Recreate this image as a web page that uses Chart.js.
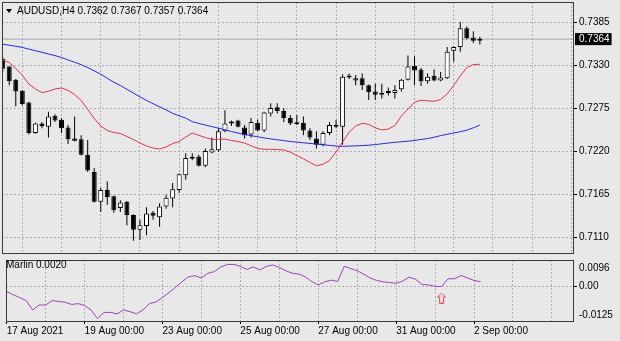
<!DOCTYPE html>
<html>
<head>
<meta charset="utf-8">
<script src="https://cdn.jsdelivr.net/npm/chart.js@4.4.0/dist/chart.umd.min.js"></script>
<style>
  html, body { margin: 0; padding: 0; background: #e8e8e8; }
  #wrap { position: relative; width: 620px; height: 341px; overflow: hidden;
          font-family: "Liberation Sans", Arial, sans-serif; font-size: 10px; color: #000; }
  canvas { position: absolute; left: 0; }
  #main { top: 0; }
  #sub { top: 254px; }
  .lbl { position: absolute; white-space: pre; line-height: 12px; }
  #tri { position: absolute; left: 6px; top: 9px; width: 0; height: 0;
         border-left: 3.5px solid transparent; border-right: 3.5px solid transparent;
         border-top: 4px solid #000; }
</style>
</head>
<body>
<div id="wrap">
  <canvas id="main" width="620" height="254"></canvas>
  <canvas id="sub" width="620" height="87"></canvas>
  <div id="tri"></div>
  <div class="lbl" id="hdr" style="left:17px;top:5px;"></div>
  <div class="lbl" id="ind" style="left:6px;top:259px;"></div>
</div>
<script>
// ---- AUDUSD H4 candles (bar 0 = 17 Aug 2021 00:00) ----
const symbol = 'AUDUSD,H4';
const open = [
  0.7339,0.7329,0.7312,0.7298,0.7283,0.7244,0.7256,0.7252,0.7266,0.7261,
  0.7251,0.7237,0.7236,0.7216,0.7194,0.7156,0.7171,0.7163,0.7148,0.7156,
  0.7139,0.7120,0.7125,0.7142,0.7136,0.7150,0.7160,0.7171,0.7190,0.7213,
  0.7214,0.7202,0.7219,0.7222,0.7246,0.7258,0.7260,0.7251,0.7242,0.7257,
  0.7247,0.7269,0.7277,0.7272,0.7263,0.7257,0.7257,0.7247,0.7237,0.7229,
  0.7244,0.7254,0.7252,0.7317,0.7311,0.7314,0.7305,0.7297,0.7295,0.7295,
  0.7295,0.7300,0.7312,0.7330,0.7325,0.7310,0.7317,0.7311,0.7314,0.7349,
  0.7354,0.7378,0.7366,0.7362];
const high = [
  0.7341,0.7330,0.7313,0.7299,0.7284,0.7257,0.7258,0.7271,0.7268,0.7263,
  0.7254,0.7265,0.7241,0.7235,0.7199,0.7174,0.7182,0.7164,0.7158,0.7157,
  0.7140,0.7133,0.7149,0.7144,0.7154,0.7165,0.7180,0.7192,0.7218,0.7218,
  0.7216,0.7224,0.7238,0.7250,0.7273,0.7260,0.7261,0.7254,0.7263,0.7261,
  0.7271,0.7282,0.7282,0.7276,0.7267,0.7267,0.7265,0.7250,0.7246,0.7246,
  0.7258,0.7261,0.7319,0.7320,0.7318,0.7320,0.7306,0.7307,0.7307,0.7302,
  0.7305,0.7313,0.7343,0.7342,0.7327,0.7320,0.7325,0.7322,0.7354,0.7355,
  0.7386,0.7380,0.7374,0.7367];
const low = [
  0.7322,0.7305,0.7278,0.7279,0.7242,0.7243,0.7250,0.7238,0.7258,0.7244,
  0.7230,0.7233,0.7215,0.7194,0.7155,0.7143,0.7152,0.7142,0.7143,0.7126,
  0.7106,0.7107,0.7113,0.7133,0.7124,0.7147,0.7149,0.7167,0.7184,0.7209,
  0.7201,0.7200,0.7218,0.7220,0.7245,0.7253,0.7251,0.7237,0.7238,0.7246,
  0.7245,0.7265,0.7269,0.7258,0.7254,0.7254,0.7241,0.7235,0.7224,0.7227,
  0.7241,0.7250,0.7229,0.7313,0.7305,0.7299,0.7286,0.7286,0.7288,0.7292,
  0.7288,0.7297,0.7311,0.7305,0.7304,0.7307,0.7310,0.7310,0.7313,0.7335,
  0.7348,0.7364,0.7359,0.7357];
const close = [
  0.7326,0.7310,0.7297,0.7281,0.7244,0.7256,0.7253,0.7265,0.7260,0.7250,
  0.7236,0.7234,0.7216,0.7196,0.7156,0.7171,0.7162,0.7145,0.7155,0.7139,
  0.7120,0.7126,0.7141,0.7138,0.7150,0.7161,0.7172,0.7191,0.7212,0.7211,
  0.7202,0.7221,0.7223,0.7246,0.7256,0.7256,0.7252,0.7241,0.7258,0.7247,
  0.7270,0.7276,0.7272,0.7263,0.7256,0.7255,0.7247,0.7238,0.7229,0.7244,
  0.7254,0.7252,0.7316,0.7315,0.7314,0.7305,0.7296,0.7293,0.7293,0.7296,
  0.7299,0.7312,0.7329,0.7324,0.7310,0.7316,0.7311,0.7315,0.7348,0.7354,
  0.7378,0.7365,0.7362,0.7364];

// slow moving average (blue)
const maSlow = [
  0.73575,0.73562,0.73549,0.73534,0.73512,0.73492,0.73471,0.73450,0.73429,0.73405,
  0.73374,0.73345,0.73314,0.73276,0.73235,0.73191,0.73138,0.73089,0.73047,0.72998,
  0.72950,0.72901,0.72856,0.72815,0.72774,0.72735,0.72690,0.72659,0.72630,0.72584,
  0.72562,0.72541,0.72521,0.72501,0.72480,0.72458,0.72439,0.72420,0.72405,0.72391,
  0.72376,0.72364,0.72352,0.72342,0.72330,0.72323,0.72314,0.72306,0.72298,0.72289,
  0.72281,0.72272,0.72268,0.72272,0.72274,0.72278,0.72283,0.72291,0.72301,0.72311,
  0.72320,0.72327,0.72334,0.72344,0.72356,0.72368,0.72385,0.72405,0.72423,0.72439,
  0.72456,0.72474,0.72506,0.72541];
// fast moving average (red)
const maFast = [
  0.73373,0.73341,0.73264,0.73181,0.73066,0.73002,0.72957,0.72973,0.73002,0.73015,
  0.72985,0.72932,0.72855,0.72740,0.72625,0.72529,0.72471,0.72446,0.72433,0.72394,
  0.72356,0.72311,0.72275,0.72247,0.72235,0.72260,0.72305,0.72330,0.72388,0.72439,
  0.72410,0.72382,0.72357,0.72358,0.72362,0.72343,0.72330,0.72311,0.72275,0.72241,
  0.72231,0.72230,0.72227,0.72223,0.72194,0.72151,0.72109,0.72063,0.72020,0.72040,
  0.72087,0.72196,0.72324,0.72449,0.72529,0.72563,0.72549,0.72506,0.72478,0.72490,
  0.72535,0.72657,0.72746,0.72832,0.72859,0.72851,0.72845,0.72868,0.72938,0.73047,
  0.73168,0.73277,0.73315,0.73318];

// Marlin oscillator
const marlinName = 'Marlin 0.0020';
const marlin = [
  -0.0018,-0.0030,-0.0040,-0.0051,-0.0085,-0.0067,-0.0067,-0.0051,-0.0054,-0.0057,
  -0.0065,-0.0062,-0.0069,-0.0085,-0.0116,-0.0094,-0.0094,-0.0099,-0.0085,-0.0091,
  -0.0099,-0.0085,-0.0062,-0.0056,-0.0040,-0.0022,-0.0003, 0.0017, 0.0035, 0.0039,
   0.0031, 0.0048, 0.0054, 0.0071, 0.0080, 0.0080, 0.0073, 0.0062, 0.0071, 0.0060,
   0.0073, 0.0078, 0.0069, 0.0057, 0.0048, 0.0045, 0.0035, 0.0018, 0.0006, 0.0017,
   0.0023, 0.0018, 0.0073, 0.0065, 0.0057, 0.0045, 0.0031, 0.0022, 0.0017, 0.0014,
   0.0012, 0.0019, 0.0034, 0.0026, 0.0007, 0.0006, 0.0000, 0.0000, 0.0028, 0.0028,
   0.0040, 0.0031, 0.0022, 0.0017];
// buy signal arrow under the oscillator
const signalUp = [{ bar: 67, value: -0.0042 }];

// axis ticks
const priceTicks = [0.7110, 0.7165, 0.7220, 0.7275, 0.7330, 0.7385];
const marlinTicks = [-0.0125, 0, 0.0096];
const marlinTickLabels = ['-0.0125', '0.00', '0.0096'];
const dateTickBars = [0, 12, 24, 36, 48, 60, 72];
const dateTickLabels = ['17 Aug 2021', '19 Aug 00:00', '23 Aug 00:00', '25 Aug 00:00',
                        '27 Aug 00:00', '31 Aug 00:00', '2 Sep 00:00'];
const gridBars = [0, 6, 12, 18, 24, 30, 36, 42, 48, 54, 60, 66, 72, 78, 84];

// ---- helpers ----
const bars = open.map((_, i) => i);
const last = bars.length - 1;
const lastClose = close[last];
const X_MIN = -0.107, X_MAX = 87.25;
const PRICE_MIN = 0.70904, PRICE_MAX = 0.74115;
const GRID = '#aeaeae';
const CLEAR = 'rgba(0,0,0,0)';

Chart.defaults.font.family = '"Liberation Sans", Arial, sans-serif';
Chart.defaults.font.size = 10;
Chart.defaults.color = '#000';

document.getElementById('hdr').textContent =
  symbol + ' ' + [open[last], high[last], low[last], close[last]].map(v => v.toFixed(4)).join(' ');
document.getElementById('ind').textContent = marlinName;

// dark frame around each plotting window
const framePlugin = {
  id: 'frame',
  afterDraw(chart) {
    const { ctx, chartArea: a } = chart;
    ctx.save();
    ctx.strokeStyle = '#3a3a3a';
    ctx.lineWidth = 1;
    ctx.strokeRect(a.left + 0.5, a.top + 0.5, a.right - a.left, a.bottom - a.top);
    ctx.restore();
  }
};

const common = {
  animation: false,
  responsive: false,
  events: [],
  plugins: { legend: { display: false }, tooltip: { enabled: false } }
};

// ---- price window ----
new Chart(document.getElementById('main'), {
  type: 'bar',
  data: {
    datasets: [
      { type: 'line', label: 'last', order: 6,
        data: [{ x: X_MIN, y: lastClose }, { x: X_MAX, y: lastClose }],
        borderColor: '#aaaaaa', borderWidth: 1, pointRadius: 0 },
      { label: 'shadows', order: 5, grouped: false, inflateAmount: 0,
        data: bars.map(i => ({ x: i, y: [low[i], high[i]] })),
        backgroundColor: '#000', barThickness: 1 },
      { label: 'bodies', order: 4, grouped: false, inflateAmount: 0,
        data: bars.map(i => ({ x: i, y: [open[i], close[i]] })),
        backgroundColor: bars.map(i => close[i] >= open[i] ? '#ffffff' : '#000000'),
        borderColor: '#000', borderWidth: 1, borderSkipped: false,
        barThickness: 5, minBarLength: 2 },
      { type: 'line', label: 'MA fast', order: 2,
        data: bars.map(i => ({ x: i, y: maFast[i] })),
        borderColor: '#e5304f', borderWidth: 1, pointRadius: 0 },
      { type: 'line', label: 'MA slow', order: 1,
        data: bars.map(i => ({ x: i, y: maSlow[i] })),
        borderColor: '#2424ff', borderWidth: 1, pointRadius: 0 }
    ]
  },
  options: Object.assign({}, common, {
    layout: { padding: { left: 2, top: 2, right: 0, bottom: 1 } },
    scales: {
      x: {
        type: 'linear', min: X_MIN, max: X_MAX, offset: false,
        afterBuildTicks: s => { s.ticks = gridBars.filter(b => b > 0).map(v => ({ value: v })); },
        afterFit: s => { s.height = 0; s.paddingLeft = 0; s.paddingRight = 0; },
        ticks: { display: false },
        grid: { color: GRID, drawTicks: false },
        border: { display: false, dash: [2, 2] }
      },
      y: {
        position: 'right', min: PRICE_MIN, max: PRICE_MAX,
        afterBuildTicks: s => {
          s.ticks = priceTicks.concat([lastClose]).sort((a, b) => a - b).map(v => ({ value: v }));
        },
        afterFit: s => { s.width = 47; s.paddingTop = 0; s.paddingBottom = 0; },
        ticks: {
          autoSkip: false, padding: 2,
          callback: v => Number(v).toFixed(4),
          color: c => (c.tick && c.tick.value === lastClose) ? '#ffffff' : '#000000',
          showLabelBackdrop: c => !!(c.tick && c.tick.value === lastClose),
          backdropColor: '#000',
          backdropPadding: { top: 0, bottom: 0, left: 4, right: 2 }
        },
        grid: {
          color: c => (c.tick && c.tick.value === lastClose) ? CLEAR : GRID,
          tickColor: c => (c.tick && c.tick.value === lastClose) ? CLEAR : '#000',
          tickLength: 4
        },
        border: { display: false, dash: [2, 2] }
      }
    }
  }),
  plugins: [framePlugin]
});

// ---- oscillator window ----
const arrowImg = document.createElement('canvas');
arrowImg.width = 9; arrowImg.height = 11;
(function () {
  const c = arrowImg.getContext('2d');
  c.strokeStyle = '#f0405c';
  c.lineWidth = 1;
  c.beginPath();
  c.moveTo(4.5, 0.5); c.lineTo(8.5, 4.5); c.lineTo(6.5, 4.5); c.lineTo(6.5, 10.5);
  c.lineTo(2.5, 10.5); c.lineTo(2.5, 4.5); c.lineTo(0.5, 4.5); c.closePath();
  c.stroke();
})();

const topTick = marlinTicks.length - 1;

new Chart(document.getElementById('sub'), {
  type: 'line',
  data: {
    datasets: [
      { label: marlinName, data: bars.map(i => ({ x: i, y: marlin[i] })),
        borderColor: '#a23fbf', borderWidth: 1, pointRadius: 0 },
      { type: 'scatter', label: 'signal',
        data: signalUp.map(s => ({ x: s.bar, y: s.value })),
        pointStyle: arrowImg, pointRadius: 5, showLine: false }
    ]
  },
  options: Object.assign({}, common, {
    layout: { padding: { left: 2, top: 2, right: 0, bottom: 0 } },
    scales: {
      x: {
        type: 'linear', min: X_MIN, max: X_MAX, offset: false,
        afterBuildTicks: s => { s.ticks = gridBars.map(v => ({ value: v })); },
        afterFit: s => { s.height = 20; s.paddingLeft = 0; s.paddingRight = 0; },
        ticks: {
          autoSkip: false, maxRotation: 0, minRotation: 0, align: 'start', padding: 1,
          callback: v => {
            const k = dateTickBars.indexOf(v);
            return k >= 0 ? dateTickLabels[k] : '';
          }
        },
        grid: {
          color: c => (c.tick && c.tick.value > 0) ? GRID : CLEAR,
          tickColor: c => (c.tick && dateTickBars.indexOf(c.tick.value) >= 0) ? '#000' : CLEAR,
          tickLength: 3
        },
        border: { display: false, dash: [2, 2] }
      },
      y: {
        position: 'right', min: marlinTicks[0], max: marlinTicks[topTick],
        afterBuildTicks: s => { s.ticks = marlinTicks.map(v => ({ value: v })); },
        afterFit: s => { s.width = 47; s.paddingTop = 0; s.paddingBottom = 0; },
        ticks: {
          autoSkip: false, padding: 2,
          // edge labels sit just inside the window
          font: c => ({ size: 10, lineHeight: (c.index === topTick) ? '16px' : '12px' }),
          callback: (v, i) => {
            const t = marlinTickLabels[i];
            if (i === topTick) return ['', t];
            if (i === 0) return [t, ''];
            return t;
          }
        },
        grid: {
          color: c => (c.tick && c.tick.value === 0) ? GRID : CLEAR,
          tickColor: c => (c.tick && c.tick.value === 0) ? '#000' : CLEAR,
          tickLength: 4
        },
        border: { display: false, dash: [2, 2] }
      }
    }
  }),
  plugins: [framePlugin]
});
</script>
</body>
</html>
